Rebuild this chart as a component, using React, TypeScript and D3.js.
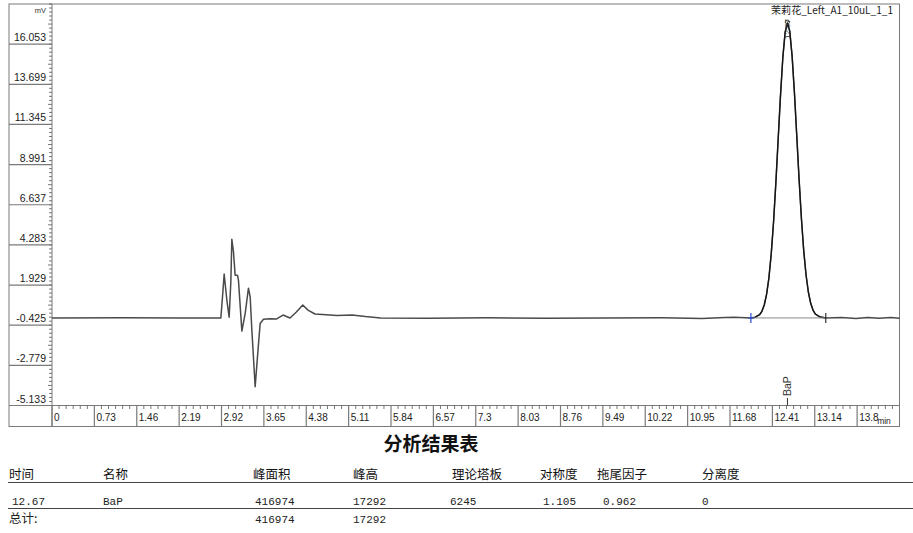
import React from "react";
import * as d3 from "d3";

// Chromatogram trace: retention time (min) and detector signal (mV)
const traceTime = [
  0, 1.2, 2.2, 2.909, 2.943, 2.966, 3.012, 3.052, 3.081, 3.098, 3.126, 3.155, 3.195, 3.212,
  3.271, 3.328, 3.384, 3.414, 3.443, 3.5, 3.54, 3.586, 3.643, 3.76, 3.87, 3.98, 4.1, 4.21,
  4.32, 4.41, 4.53, 4.91, 5.17, 5.4, 5.66, 6.5, 7.5, 8.5, 9.5, 10.5, 11.2, 11.6, 11.75, 12.04,
  12.11, 12.19, 12.23, 12.27, 12.31, 12.35, 12.39, 12.43, 12.47, 12.51, 12.55, 12.59, 12.63,
  12.67, 12.71, 12.75, 12.79, 12.83, 12.87, 12.91, 12.95, 12.99, 13.03, 13.07, 13.11, 13.15,
  13.23, 13.33, 13.6, 13.85, 14.05, 14.25, 14.45, 14.6,
];
const traceSignal = [
  0, 0.01, 0, 0, 1.5, 2.57, 1.05, 0.04, 2.12, 4.61, 3.88, 2.51, 2.51, 2.22,
  -0.77, 0.27, 1.74, 1.24, -0.71, -4.03, -2.27, -0.32, -0.08, -0.04, -0.06, 0.17, 0, 0.35,
  0.76, 0.46, 0.23, 0.14, 0.17, 0.08, 0, -0.02, 0.01, -0.02, 0, 0.01, -0.03, 0.02, 0.04, 0,
  0.04, 0.19, 0.39, 0.76, 1.38, 2.34, 3.74, 5.61, 7.92, 10.49, 13.05, 15.26, 16.76,
  17.29, 16.8, 15.35, 13.2, 10.7, 8.15, 5.85, 3.95, 2.52, 1.52, 0.86, 0.46, 0.23,
  0.06, 0, 0.02, -0.03, 0.02, -0.02, 0.03, -0.02,
];

// Integrated peak
const peakName = "BaP";
const peakStart = 12.04;
const peakEnd = 13.33;
const peakApexTime = 12.67;
const peakApexLabel = "12.67";
const sampleName = "茉莉花_Left_A1_10uL_1_1";

// Axes
const yTickValues = [-5.133, -2.779, -0.425, 1.929, 4.283, 6.637, 8.991, 11.345, 13.699, 16.053];
const yTickLabels = ["-5.133", "-2.779", "-0.425", "1.929", "4.283", "6.637", "8.991", "11.345", "13.699", "16.053"];
const yDomain = [-5.133, 18.407];
const xTickValues = [0, 0.73, 1.46, 2.19, 2.92, 3.65, 4.38, 5.11, 5.84, 6.57, 7.3, 8.03, 8.76, 9.49, 10.22, 10.95, 11.68, 12.41, 13.14, 13.87];
const xTickLabels = ["0", "0.73", "1.46", "2.19", "2.92", "3.65", "4.38", "5.11", "5.84", "6.57", "7.3", "8.03", "8.76", "9.49", "10.22", "10.95", "11.68", "12.41", "13.14", "13.8"];
const xDomain = [0, 14.6];

// Results table
const tableTitle = "分析结果表";
const tableHeaders = ["时间", "名称", "峰面积", "峰高", "理论塔板", "对称度", "拖尾因子", "分离度"];
const resultRow = ["12.67", "BaP", "416974", "17292", "6245", "1.105", "0.962", "0"];
const totalRow = ["总计:", "", "416974", "17292", "", "", "", ""];

const W = 913;
const H = 533;

export default function App() {
  const left = 52;
  const right = 899.5;
  const top = 4;
  const bottom = 405.5;
  const frameLeft = 9;
  const stripBottom = 426.5;

  const x = d3.scaleLinear().domain(xDomain).range([left, right]);
  const y = d3.scaleLinear().domain(yDomain).range([bottom, top]);

  const pts: [number, number][] = traceTime.map((t, i) => [t, traceSignal[i]]);
  const line = d3.line<[number, number]>().x((d) => x(d[0])).y((d) => y(d[1]));
  const peakPts = pts.filter((d) => d[0] >= peakStart && d[0] <= peakEnd);

  const yStep = (yDomain[1] - yDomain[0]) / 100;
  const yMinor = d3.range(0, 101).map((i) => yDomain[0] + i * yStep);
  const xMinor: number[] = [];
  xTickValues.forEach((v) => {
    for (let k = 1; k < 6; k++) {
      const t = v + (k * 0.73) / 6;
      if (t < xDomain[1]) xMinor.push(t);
    }
  });

  const axisFont = "'Liberation Sans', Arial, sans-serif";
  const cjk = "'Noto Sans CJK SC', sans-serif";
  const mono = "'Liberation Mono', 'DejaVu Sans Mono', monospace";
  const frame = "#7a7a7a";

  const colX = [9, 103, 253, 353, 452, 540, 597, 702];
  const dataX = [12, 103, 255, 353, 450, 543, 603, 702];

  const apexSignal = traceSignal[traceTime.indexOf(peakApexTime)];

  return (
    <svg
      width={W}
      height={H}
      style={{ position: "absolute", left: 0, top: 0, background: "#fff" }}
      xmlns="http://www.w3.org/2000/svg"
    >
      <rect x={0} y={0} width={W} height={H} fill="#fff" />

      {/* outer frame, label column, time strip */}
      <rect x={frameLeft} y={top} width={right - frameLeft} height={stripBottom - top} fill="none" stroke={frame} strokeWidth={1} />
      <line x1={left} x2={left} y1={top} y2={stripBottom} stroke={frame} />
      <line x1={frameLeft} x2={right} y1={bottom} y2={bottom} stroke={frame} />

      {/* y axis */}
      <text x={46} y={13} fontSize={7.5} fontFamily={axisFont} textAnchor="end" fill="#333">mV</text>
      {yMinor.map((v, i) => (
        <line key={"ym" + i} x1={left - (i % 10 === 5 ? 4 : 3)} x2={left} y1={y(v)} y2={y(v)} stroke="#555" strokeWidth={0.8} />
      ))}
      {yTickValues.map((v, i) => (
        <g key={"yt" + i}>
          <line x1={frameLeft} x2={left} y1={y(v)} y2={y(v)} stroke={frame} strokeWidth={1.2} />
          <text x={46} y={y(v) - 3} fontSize={10.5} fontFamily={axisFont} textAnchor="end" fill="#222">
            {yTickLabels[i]}
          </text>
        </g>
      ))}

      {/* x axis strip */}
      {xMinor.map((t, i) => (
        <line key={"xm" + i} x1={x(t)} x2={x(t)} y1={bottom} y2={bottom + 3.5} stroke="#555" strokeWidth={0.8} />
      ))}
      {xTickValues.map((t, i) => (
        <g key={"xt" + i}>
          <line x1={x(t)} x2={x(t)} y1={bottom} y2={stripBottom} stroke={frame} strokeWidth={1.2} />
          <text x={x(t) + 2} y={421} fontSize={10} fontFamily={axisFont} fill="#222">
            {xTickLabels[i]}
          </text>
        </g>
      ))}
      <text x={x(xTickValues[xTickValues.length - 1]) + 20} y={424} fontSize={8.5} fontFamily={axisFont} fill="#222">min</text>

      {/* chromatogram */}
      <path d={line(pts) || ""} fill="none" stroke="#4a4a4a" strokeWidth={1.5} strokeLinejoin="round" />
      <path d={line(peakPts) || ""} fill="none" stroke="#141414" strokeWidth={1.3} strokeLinejoin="round" />

      {/* integration baseline and markers */}
      <line x1={x(peakStart)} x2={x(peakEnd)} y1={y(0)} y2={y(0)} stroke="#8a8a8a" strokeWidth={1} />
      <line x1={x(peakStart)} x2={x(peakStart)} y1={y(0) - 5} y2={y(0) + 5} stroke="#2d4bd0" strokeWidth={1.2} />
      <line x1={x(peakStart) - 3} x2={x(peakStart) + 3} y1={y(0)} y2={y(0)} stroke="#2d4bd0" strokeWidth={1} />
      <line x1={x(peakEnd)} x2={x(peakEnd)} y1={y(0) - 5} y2={y(0) + 5} stroke="#222" strokeWidth={1.1} />

      {/* apex annotation */}
      <circle cx={x(peakApexTime)} cy={y(apexSignal) - 1} r={2} fill="none" stroke="#333" strokeWidth={0.9} />
      <text
        transform={`translate(${x(peakApexTime) + 3},${y(apexSignal) + 16}) rotate(-90)`}
        fontSize={8}
        fontFamily={axisFont}
        fill="#333"
      >
        {peakApexLabel}
      </text>
      <text x={893} y={14} fontSize={10} fontFamily={cjk} textAnchor="end" fill="#222" textLength={122} lengthAdjust="spacingAndGlyphs">
        {sampleName}
      </text>

      {/* peak name above the time axis */}
      <line x1={x(peakApexTime)} x2={x(peakApexTime)} y1={398} y2={bottom} stroke="#333" strokeWidth={1} />
      <text
        transform={`translate(${x(peakApexTime) + 4},${396}) rotate(-90)`}
        fontSize={10.5}
        fontFamily={axisFont}
        fill="#333"
      >
        {peakName}
      </text>

      {/* results table */}
      <text x={431} y={451} fontSize={19} fontWeight="bold" fontFamily={cjk} textAnchor="middle" fill="#111">
        {tableTitle}
      </text>
      {tableHeaders.map((h, i) => (
        <text key={"h" + i} x={colX[i]} y={479} fontSize={12.5} fontFamily={cjk} fill="#111">
          {h}
        </text>
      ))}
      <line x1={8} x2={W} y1={482.5} y2={482.5} stroke="#444" strokeWidth={1} />
      {resultRow.map((v, i) => (
        <text key={"r" + i} x={dataX[i]} y={505} fontSize={11} fontFamily={mono} fill="#222">
          {v}
        </text>
      ))}
      <line x1={8} x2={W} y1={508.5} y2={508.5} stroke="#444" strokeWidth={1} />
      {totalRow.map((v, i) =>
        v ? (
          <text key={"t" + i} x={i === 0 ? colX[0] : dataX[i]} y={523} fontSize={i === 0 ? 12.5 : 11} fontFamily={i === 0 ? cjk : mono} fill="#222">
            {v}
          </text>
        ) : null
      )}
    </svg>
  );
}
